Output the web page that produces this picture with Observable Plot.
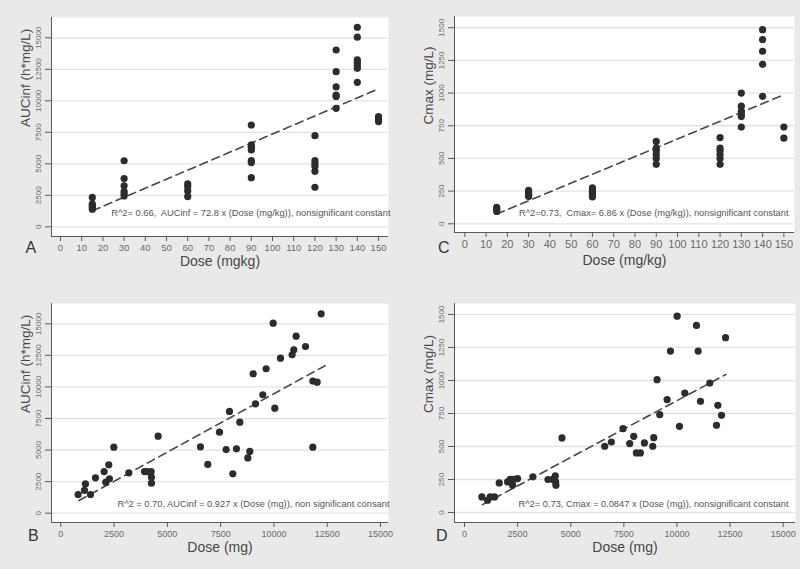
<!DOCTYPE html>
<html>
<head>
<meta charset="utf-8">
<script src="https://cdn.jsdelivr.net/npm/d3@7"></script>
<script src="https://cdn.jsdelivr.net/npm/@observablehq/plot@0.6"></script>
<style>
  html, body { margin: 0; padding: 0; background: #e9e9e9; }
  #wrap { position: relative; width: 800px; height: 569px; background: #e9e9e9; overflow: hidden;
          font-family: "Liberation Sans", Arial, sans-serif; }
  .panel { position: absolute; }
</style>
</head>
<body>
<div id="wrap"></div>
<script>
// ---------- DATA ----------
// Panels A & C: dose groups in mg/kg
const doseLevelsKg = [15, 30, 60, 90, 120, 130, 140, 150];
const aucByLevel = [
  [2330, 1800, 1700, 1550, 1400],
  [5240, 3830, 3250, 2800, 2600, 2450],
  [3400, 3200, 2850, 2400],
  [8080, 6500, 6300, 6100, 5250, 5100, 3900],
  [7230, 5250, 5000, 4800, 4400, 3130],
  [14030, 12310, 11100, 10450, 10350, 9400],
  [15830, 15050, 13250, 13050, 12820, 12580, 11470],
  [8740, 8550, 8350]
];
const cmaxByLevel = [
  [125, 115, 105, 95],
  [255, 245, 235, 225, 215, 210],
  [275, 260, 245, 230, 215, 205],
  [630, 580, 560, 530, 500, 455],
  [660, 580, 560, 530, 500, 455],
  [1000, 900, 860, 840, 820, 740],
  [1485, 1410, 1320, 1220, 975],
  [740, 655]
];

// Panel B: dose (mg) vs AUCinf
const doseMgB = [813, 1110, 1157, 1392, 1626, 2033, 2111, 2252, 2283, 2487, 3190, 3926, 4051, 4238, 4254, 4254,
  4567, 6553, 6897, 7445, 7757, 7914, 8070, 8242, 8399, 8774, 8868, 9024, 9134, 9478, 9634, 9963, 10041,
  10307, 10854, 10932, 11042, 11480, 11824, 11824, 12027, 12215];
const aucB = [1480, 1800, 2320, 1480, 2800, 3300, 2460, 3830, 2720, 5230, 3200, 3300, 3300, 3300, 2850, 2380,
  6100, 5260, 3860, 6420, 5040, 8060, 3120, 5100, 7210, 4380, 4890, 11040, 8660, 9380, 11440, 15050, 8320,
  12280, 12550, 12940, 14020, 13200, 10460, 5230, 10380, 15790];

// Panel D: dose (mg) vs Cmax
const doseMgD = [817, 1084, 1210, 1414, 1634, 2027, 2152, 2262, 2309, 2498, 3220, 3927, 4147, 4273, 4289, 4304,
  4587, 6598, 6912, 7462, 7776, 7964, 8090, 8279, 8467, 8860, 8907, 9064, 9190, 9536, 9693, 10007, 10117,
  10368, 10918, 10997, 11107, 11547, 11861, 11924, 12097, 12285];
const cmaxD = [118, 93, 118, 118, 224, 232, 252, 207, 252, 257, 270, 250, 252, 277, 232, 207,
  565, 502, 534, 635, 522, 577, 451, 451, 527, 502, 567, 1006, 741, 855, 1223, 1487, 653,
  905, 1417, 1223, 842, 981, 660, 812, 736, 1324];

// Fitted (dashed) regression lines: end points
const fitXA = [15, 150],   fitYA = [1270, 10950];
const fitXC = [15, 150],   fitYC = [75, 987];
const fitXB = [850, 12400], fitYB = [1000, 11680];
const fitXD = [850, 12300], fitYD = [60, 1045];

// Ticks
const ticksKg = [0, 10, 20, 30, 40, 50, 60, 70, 80, 90, 100, 110, 120, 130, 140, 150];
const ticksMg = [0, 2500, 5000, 7500, 10000, 12500, 15000];
const ticksAuc = [0, 2500, 5000, 7500, 10000, 12500, 15000];
const ticksCmax = [0, 250, 500, 750, 1000, 1250, 1500];

// Text
const panelLetters = ["A", "B", "C", "D"];
const xTitles = ["Dose (mgkg)", "Dose (mg)", "Dose (mg/kg)", "Dose (mg)"];
const yTitles = ["AUCinf (h*mg/L)", "AUCinf (h*mg/L)", "Cmax (mg/L)", "Cmax (mg/L)"];
const notes = [
  "R^2= 0.66,  AUCinf = 72.8 x (Dose (mg/kg)), nonsignificant constant",
  "R^2 = 0.70, AUCinf = 0.927 x (Dose (mg)), non significant consant",
  "R^2=0.73,  Cmax= 6.86 x (Dose (mg/kg)), nonsignificant constant",
  "R^2= 0.73, Cmax = 0.0847 x (Dose (mg)), nonsignificant constant"
];

// ---------- BUILD TABLES ----------
const groupTable = (levels, vals) => levels.flatMap((d, i) => vals[i].map(v => ({x: d, y: v})));
const pairTable = (xs, ys) => xs.map((x, i) => ({x, y: ys[i]}));

const panels = [
  { // A
    left: 0, top: 0, width: 400, height: 285,
    margin: {l: 51, r: 12, t: 17, b: 49},
    xDomain: [-4.25, 154.7], yDomain: [-770, 16611],
    xTicks: ticksKg, yTicks: ticksAuc, xFont: 9.5,
    pts: groupTable(doseLevelsKg, aucByLevel), fit: pairTable(fitXA, fitYA),
    idx: 0, yTitleDx: -26, xTitleDy: 29, letterDx: -26, letterDy: 16.5, noteDx: 2, noteDy: -21
  },
  { // B
    left: 0, top: 285, width: 400, height: 284,
    margin: {l: 51, r: 12, t: 18, b: 47},
    xDomain: [-436, 15375], yDomain: [-737, 16607],
    xTicks: ticksMg, yTicks: ticksAuc, xFont: 9,
    pts: pairTable(doseMgB, aucB), fit: pairTable(fitXB, fitYB),
    idx: 1, yTitleDx: -26, xTitleDy: 29, letterDx: -23.5, letterDy: 18.5, noteDx: 1, noteDy: -15.6
  },
  { // C
    left: 400, top: 0, width: 400, height: 285,
    margin: {l: 54, r: 6, t: 16, b: 53},
    xDomain: [-4.84, 155.0], yDomain: [-66.6, 1586],
    xTicks: ticksKg, yTicks: ticksCmax, xFont: 11,
    pts: groupTable(doseLevelsKg, cmaxByLevel), fit: pairTable(fitXC, fitYC),
    idx: 2, yTitleDx: -25.5, xTitleDy: 32, letterDx: -16.5, letterDy: 20.5, noteDx: -6, noteDy: -17
  },
  { // D
    left: 400, top: 285, width: 400, height: 284,
    margin: {l: 54, r: 5, t: 18, b: 47},
    xDomain: [-471, 15579], yDomain: [-75.6, 1583],
    xTicks: ticksMg, yTicks: ticksCmax, xFont: 9,
    pts: pairTable(doseMgD, cmaxD), fit: pairTable(fitXD, fitYD),
    idx: 3, yTitleDx: -25.5, xTitleDy: 29, letterDx: -18.5, letterDy: 18, noteDx: -7, noteDy: -15.6
  }
];

const wrap = document.getElementById("wrap");
const axisColor = "#5a5a5a";
const tickTextColor = "#6a6a6a";

for (const p of panels) {
  const chart = Plot.plot({
    width: p.width, height: p.height,
    marginLeft: p.margin.l, marginRight: p.margin.r, marginTop: p.margin.t, marginBottom: p.margin.b,
    style: {background: "transparent", overflow: "visible", fontFamily: "'Liberation Sans', Arial, sans-serif"},
    x: {domain: p.xDomain, axis: null},
    y: {domain: p.yDomain, axis: null},
    marks: [
      Plot.frame({fill: "white", stroke: "none"}),
      Plot.gridY(p.yTicks, {stroke: "#e3e3e3", strokeOpacity: 1, strokeWidth: 1.3}),
      Plot.ruleX([p.xDomain[0]], {stroke: axisColor, strokeWidth: 1}),
      Plot.ruleY([p.yDomain[0]], {stroke: axisColor, strokeWidth: 1}),
      Plot.axisX(p.xTicks, {anchor: "bottom", tickSize: 5, tickPadding: 3, fontSize: p.xFont,
        stroke: axisColor, fill: tickTextColor, label: null, tickFormat: d => String(d)}),
      Plot.axisY(p.yTicks, {anchor: "left", tickSize: 6, tickRotate: -90, tickPadding: 5, fontSize: 8,
        stroke: axisColor, fill: tickTextColor, label: null, tickFormat: d => String(d)}),
      Plot.line(p.fit, {x: "x", y: "y", stroke: "#474747", strokeWidth: 1.6, strokeDasharray: "8,5"}),
      Plot.dot(p.pts, {x: "x", y: "y", r: 3.6, fill: "#2c2c2c", stroke: "none"}),
      Plot.text([notes[p.idx]], {frameAnchor: "bottom-right", textAnchor: "end", dx: p.noteDx, dy: p.noteDy,
        fontSize: 9.3, fill: "#555"}),
      Plot.text([yTitles[p.idx]], {frameAnchor: "left", rotate: -90, dx: p.yTitleDx, fontSize: 13.5, fill: "#464646"}),
      Plot.text([xTitles[p.idx]], {frameAnchor: "bottom", dy: p.xTitleDy, fontSize: 14, fill: "#464646"}),
      Plot.text([panelLetters[p.idx]], {frameAnchor: "bottom-left", dx: p.letterDx, dy: p.letterDy, fontSize: 16, fill: "#333"})
    ]
  });
  chart.classList.add("panel");
  chart.style.left = p.left + "px";
  chart.style.top = p.top + "px";
  wrap.appendChild(chart);
}
</script>
</body>
</html>
